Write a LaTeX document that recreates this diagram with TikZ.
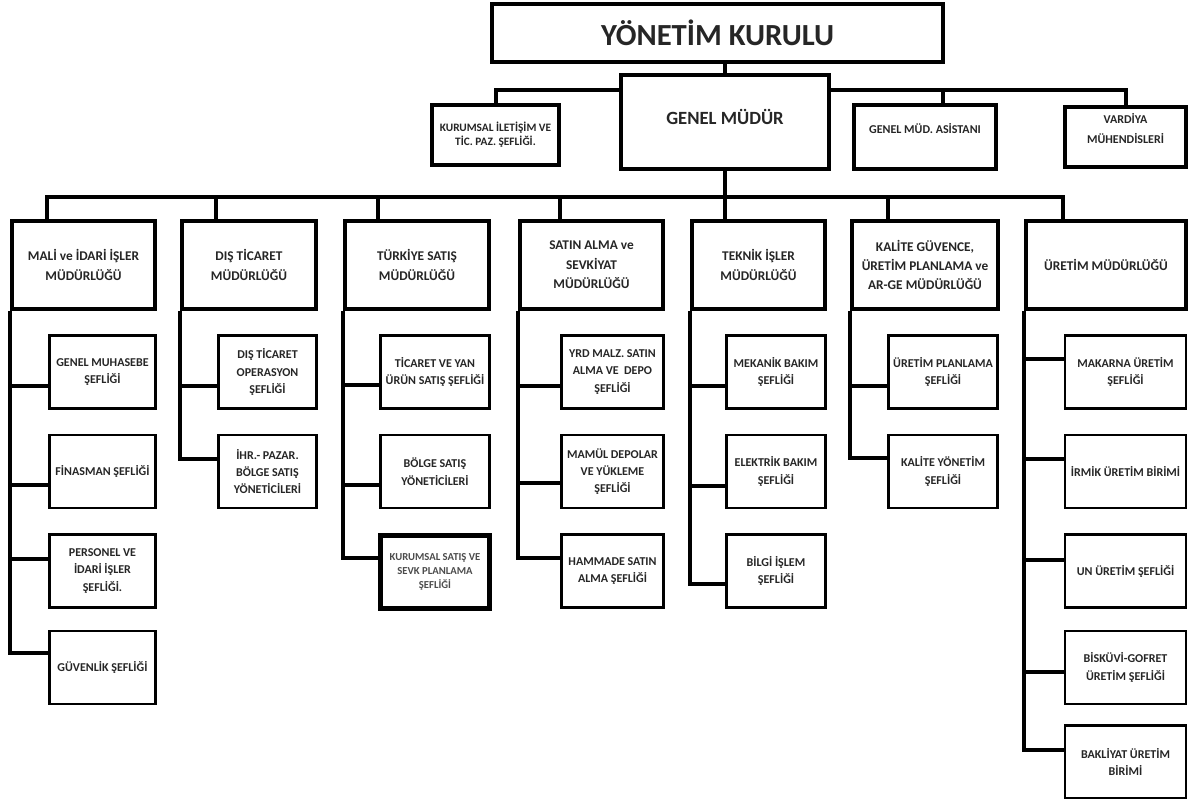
\documentclass[tikz,border=0pt]{standalone}
\usepackage{fontspec}
\setmainfont{Carlito}
\usetikzlibrary{backgrounds}
\tikzset{
	box/.style={draw, fill=white, align=center, inner sep=1pt, text=black!85},
	boss/.style={box, line width=3pt, font=\bfseries\fontsize{9}{15}\selectfont},
	head/.style={box, line width=3pt, minimum height=66pt, font=\bfseries\fontsize{10}{14.5}\selectfont},
	chief/.style={box, line width=2.2pt, minimum height=54.75pt, font=\bfseries\fontsize{9}{13}\selectfont},
	link/.style={line width=3pt}
}
\begin{document}
\begin{tikzpicture}[x=0.75pt, y=-0.75pt]
	\useasboundingbox (0,0) rectangle (1188,799);

	% top
	\node[boss, minimum width=338pt, minimum height=43.5pt, font=\bfseries\fontsize{23}{26}\selectfont] (yk) at (717.5,33) {YÖNETİM KURULU};
	\node[boss, minimum width=156pt, minimum height=70pt, text depth=7pt, font=\bfseries\fontsize{14}{17}\selectfont] (gm) at (725,122) {GENEL MÜDÜR};
	\node[boss, minimum width=95pt, minimum height=45pt, font=\bfseries\fontsize{8.5}{10.5}\selectfont] (kur) at (495.5,135) {KURUMSAL İLETİŞİM VE\\TİC. PAZ. ŞEFLİĞİ.};
	\node[boss, minimum width=106.5pt, minimum height=48pt, text depth=13pt] (asi) at (925,137) {GENEL MÜD. ASİSTANI};
	\node[boss, minimum width=91pt, minimum height=45pt, text depth=13pt] (var) at (1125.5,137) {VARDİYA\\MÜHENDİSLERİ};

	\coordinate (tbar) at (0,90);
	\coordinate (bar) at (0,197);
	\coordinate (asi-d) at ([xshift=13.5pt]asi.north);
	\begin{scope}[on background layer]
		\draw[link] (kur.north) |- (var.north |- tbar) -- (var.north);
		\draw[link] (asi-d) -- (asi-d |- tbar);
		\draw[link] (yk.south -| gm.north) -- (gm.north);
		\draw[link] (gm.south) -- (gm.south |- bar);
	\end{scope}

	% departments
	\node[head, minimum width=107.25pt] (mali) at (83.5,265) {MALİ ve İDARİ İŞLER\\MÜDÜRLÜĞÜ};
	\node[head, minimum width=100.5pt] (dis) at (249,265) {DIŞ TİCARET\\MÜDÜRLÜĞÜ};
	\node[head, minimum width=108pt] (tur) at (417,265) {TÜRKİYE SATIŞ\\MÜDÜRLÜĞÜ};
	\node[head, minimum width=107.25pt] (sat) at (591.5,265) {SATIN ALMA ve\\SEVKİYAT\\MÜDÜRLÜĞÜ};
	\node[head, minimum width=99.75pt] (tek) at (758.5,265) {TEKNİK İŞLER\\MÜDÜRLÜĞÜ};
	\node[head, minimum width=109.5pt] (kal) at (925,265) {KALİTE GÜVENCE,\\ÜRETİM PLANLAMA ve\\AR-GE MÜDÜRLÜĞÜ};
	\node[head, minimum width=120pt] (ure) at (1106,265) {ÜRETİM MÜDÜRLÜĞÜ};

	\foreach \h/\d in {mali/27.75,dis/27,tur/26.25,sat/31.5,tek/26.25,kal/28.5,ure/29.25}
	{
		\coordinate (\h-d) at ([xshift=\d pt]\h.north west);
		\draw[link] (\h-d) -- (\h-d |- bar);
	}
	\draw[link, line cap=rect] (mali-d |- bar) -- (ure-d |- bar);

	% units
	\foreach \n/\y/\s/\t in {1/372/-10.5/{GENEL MUHASEBE\\ŞEFLİĞİ}, 2/471.5/-10/{FİNASMAN ŞEFLİĞİ}, 3/571/9/{PERSONEL VE\\İDARİ İŞLER\\ŞEFLİĞİ.}, 4/667.5/11/{GÜVENLİK ŞEFLİĞİ}}
	{
		\node[chief, minimum width=79.5pt] (mali\n) at (102.5,\y) {\t};
		\draw[link] (mali.south west) |- ([yshift=\s pt]mali\n.west);
	}
	\foreach \n/\y/\s/\t in {1/372/-10.5/{DIŞ TİCARET\\OPERASYON\\ŞEFLİĞİ}, 2/471.5/9.5/{İHR.- PAZAR.\\BÖLGE SATIŞ\\YÖNETİCİLERİ}}
	{
		\node[chief, minimum width=73.5pt] (dis\n) at (267.5,\y) {\t};
		\draw[link] (dis.south west) |- ([yshift=\s pt]dis\n.west);
	}
	\foreach \n/\y/\s/\t in {1/372/-9.75/{TİCARET VE YAN\\ÜRÜN SATIŞ ŞEFLİĞİ}, 2/471.5/-10/{BÖLGE SATIŞ\\YÖNETİCİLERİ}}
	{
		\node[chief, minimum width=81.75pt] (tur\n) at (435,\y) {\t};
		\draw[link] (tur.south west) |- ([yshift=\s pt]tur\n.west);
	}
	\node[chief, minimum width=81.75pt, line width=3.6pt, font=\bfseries\fontsize{8}{10.5}\selectfont, text=black!70] (tur3) at (435,572) {KURUMSAL SATIŞ VE\\SEVK PLANLAMA\\ŞEFLİĞİ};
	\draw[link] (tur.south west) |- ([yshift=10.5pt]tur3.west);
	\foreach \n/\y/\s/\t in {1/372/-10.5/{YRD MALZ. SATIN\\ALMA VE \ DEPO\\ŞEFLİĞİ}, 2/471.5/-8.5/{MAMÜL DEPOLAR\\VE YÜKLEME\\ŞEFLİĞİ}, 3/571/10/{HAMMADE SATIN\\ALMA ŞEFLİĞİ}}
	{
		\node[chief, minimum width=76.5pt] (sat\n) at (612.5,\y) {\t};
		\draw[link] (sat.south west) |- ([yshift=\s pt]sat\n.west);
	}
	\foreach \n/\y/\s/\t in {1/372/-10.5/{MEKANİK BAKIM\\ŞEFLİĞİ}, 2/471.5/-11/{ELEKTRİK BAKIM\\ŞEFLİĞİ}, 3/571/-10/{BİLGİ İŞLEM\\ŞEFLİĞİ}}
	{
		\node[chief, minimum width=74.25pt] (tek\n) at (776,\y) {\t};
		\draw[link] (tek.south west) |- ([yshift=\s pt]tek\n.west);
	}
	\foreach \n/\y/\s/\t in {1/372/-10.5/{ÜRETİM PLANLAMA\\ŞEFLİĞİ}, 2/471.5/10/{KALİTE YÖNETİM\\ŞEFLİĞİ}}
	{
		\node[chief, minimum width=81.75pt] (kal\n) at (943,\y) {\t};
		\draw[link] (kal.south west) |- ([yshift=\s pt]kal\n.west);
	}
	\foreach \n/\y/\s/\t in {1/372/10/{MAKARNA ÜRETİM\\ŞEFLİĞİ}, 2/471.5/9.5/{İRMİK ÜRETİM BİRİMİ}, 3/571/8.5/{UN ÜRETİM ŞEFLİĞİ}, 4/667.5/-3.5/{BİSKÜVİ-GOFRET\\ÜRETİM ŞEFLİĞİ}, 5/762/9/{BAKLİYAT ÜRETİM\\BİRİMİ}}
	{
		\node[chief, minimum width=90.75pt] (ure\n) at (1125.5,\y) {\t};
		\draw[link] (ure.south west) |- ([yshift=\s pt]ure\n.west);
	}
\end{tikzpicture}
\end{document}
